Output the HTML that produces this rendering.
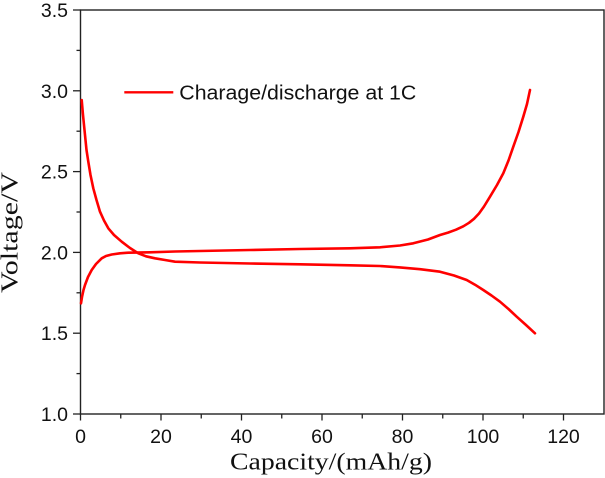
<!DOCTYPE html>
<html>
<head>
<meta charset="utf-8">
<style>
html,body{margin:0;padding:0;background:#fff;}
svg{display:block;}
</style>
</head>
<body>
<svg width="605" height="478" viewBox="0 0 605 478" xmlns="http://www.w3.org/2000/svg">
  <rect x="0" y="0" width="605" height="478" fill="#fff"/>
  <!-- frame -->
  <rect x="80.5" y="10" width="523.5" height="404" fill="none" stroke="#222" stroke-width="1.4"/>
  <!-- y ticks -->
  <g stroke="#222" stroke-width="1.3">
    <line x1="73" y1="414" x2="80.5" y2="414"/>
    <line x1="76.5" y1="373.6" x2="80.5" y2="373.6"/>
    <line x1="73" y1="333.2" x2="80.5" y2="333.2"/>
    <line x1="76.5" y1="292.8" x2="80.5" y2="292.8"/>
    <line x1="73" y1="252.4" x2="80.5" y2="252.4"/>
    <line x1="76.5" y1="212" x2="80.5" y2="212"/>
    <line x1="73" y1="171.6" x2="80.5" y2="171.6"/>
    <line x1="76.5" y1="131.2" x2="80.5" y2="131.2"/>
    <line x1="73" y1="90.8" x2="80.5" y2="90.8"/>
    <line x1="76.5" y1="50.4" x2="80.5" y2="50.4"/>
    <line x1="73" y1="10" x2="80.5" y2="10"/>
  </g>
  <!-- x ticks -->
  <g stroke="#222" stroke-width="1.3">
    <line x1="80.5" y1="414" x2="80.5" y2="420.5"/>
    <line x1="120.75" y1="414" x2="120.75" y2="418.5"/>
    <line x1="161" y1="414" x2="161" y2="420.5"/>
    <line x1="201.25" y1="414" x2="201.25" y2="418.5"/>
    <line x1="241.5" y1="414" x2="241.5" y2="420.5"/>
    <line x1="281.75" y1="414" x2="281.75" y2="418.5"/>
    <line x1="322" y1="414" x2="322" y2="420.5"/>
    <line x1="362.25" y1="414" x2="362.25" y2="418.5"/>
    <line x1="402.5" y1="414" x2="402.5" y2="420.5"/>
    <line x1="442.75" y1="414" x2="442.75" y2="418.5"/>
    <line x1="483" y1="414" x2="483" y2="420.5"/>
    <line x1="523.25" y1="414" x2="523.25" y2="418.5"/>
    <line x1="563.5" y1="414" x2="563.5" y2="420.5"/>
  </g>
  <!-- y tick labels -->
  <g font-family="Liberation Sans, Arial, sans-serif" font-size="19.5" fill="#111" text-anchor="end">
    <text x="68" y="421">1.0</text>
    <text x="68" y="340.2">1.5</text>
    <text x="68" y="259.4">2.0</text>
    <text x="68" y="178.6">2.5</text>
    <text x="68" y="97.8">3.0</text>
    <text x="68" y="17">3.5</text>
  </g>
  <!-- x tick labels -->
  <g font-family="Liberation Sans, Arial, sans-serif" font-size="19.5" fill="#111" text-anchor="middle">
    <text x="80.5" y="443">0</text>
    <text x="161" y="443">20</text>
    <text x="241.5" y="443">40</text>
    <text x="322" y="443">60</text>
    <text x="402.5" y="443">80</text>
    <text x="483" y="443">100</text>
    <text x="563.5" y="443">120</text>
  </g>
  <!-- axis titles -->
  <text x="230" y="469.5" font-family="Liberation Serif, 'Times New Roman', serif" font-size="24" fill="#111" textLength="202" lengthAdjust="spacingAndGlyphs">Capacity/(mAh/g)</text>
  <text transform="translate(17.5,293) rotate(-90)" x="0" y="0" font-family="Liberation Serif, 'Times New Roman', serif" font-size="24" fill="#111" textLength="121" lengthAdjust="spacingAndGlyphs">Voltage/V</text>
  <!-- legend -->
  <line x1="124.3" y1="92.3" x2="173.3" y2="92.3" stroke="#ff0000" stroke-width="2.4"/>
  <text x="179.3" y="99.3" font-family="Liberation Sans, Arial, sans-serif" font-size="20" fill="#111" textLength="237" lengthAdjust="spacingAndGlyphs">Charage/discharge at 1C</text>
  <!-- charge curve -->
  <polyline fill="none" stroke="#ff0000" stroke-width="2.6" stroke-linejoin="round" stroke-linecap="round"
    points="81,303.3 82,297 83.5,290 85,285 88,277 91.7,270 96,264 101.7,258.3 106,256 111.7,254.5 120,253.3 128.3,252.7 150,252.3 175,251.5 200,251 250,250 300,249 350,248.3 380,247.3 400,245.5 413.3,243.3 428,239.5 440,235 448,232.6 456,229.7 463.3,226.3 469,222.8 474,218.8 479,213.5 484,206.5 490,196.7 497,185 503.3,173.3 508.5,160.5 513.3,146.7 518.5,132 523.3,116.7 527,104 530,90"/>
  <!-- discharge curve -->
  <polyline fill="none" stroke="#ff0000" stroke-width="2.6" stroke-linejoin="round" stroke-linecap="round"
    points="81.7,100 83,115 85,135 86.5,150 88.3,161.7 90.5,175 93.3,188.3 96.5,200 100,211.7 104,220.5 108.3,228.3 114,235 121.7,241.7 130,248 138.3,253.3 146,256.3 155,258.3 165,260 175,261.7 200,262.5 250,263.5 300,264.3 350,265.3 380,266 400,267.4 420,269.2 440,271.7 454,275.5 466.7,280 475,284.7 483.3,290 491.5,295.5 500,301.7 508.5,309 516.7,316.7 526,325 535,333.3"/>
</svg>
</body>
</html>
